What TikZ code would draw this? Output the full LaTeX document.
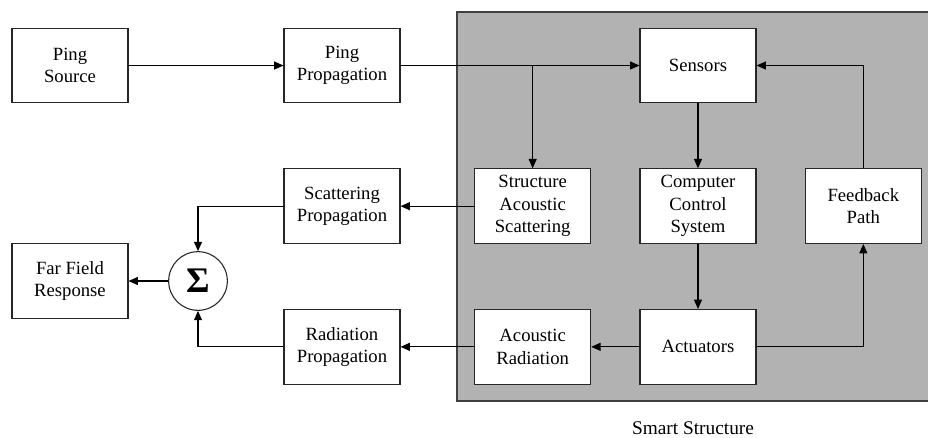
\documentclass[tikz,border=0pt]{standalone}
\usepackage{fontspec}
\setmainfont{Liberation Serif}
\usetikzlibrary{arrows.meta,positioning,shapes}
\definecolor{structgray}{RGB}{178,178,178}

\begin{document}
\begin{tikzpicture}[->,>={Triangle[length=7pt,width=6pt]},x=0.75pt,y=-0.75pt,line width=0.8pt]
\tikzstyle{block}=[draw=black!85,fill=white,rectangle,minimum width=87pt,minimum height=56pt,align=center,font=\fontsize{14}{16.8}\selectfont]
\tikzstyle{sumnode}=[draw=black!85,fill=white,circle,minimum size=44pt,inner sep=0pt,font=\fontsize{27}{27}\selectfont\bfseries]

\useasboundingbox (0,0) rectangle (928,437);
% smart structure background
\draw[-,fill=structgray,draw=black!75,line width=1.2pt] (457,12) rectangle (945,401);

\node[block]        (PS) at (70,65.5)  {Ping\\Source};
\node[block]        (PP) [right of=PS,node distance=204pt] {Ping\\Propagation};
\node[block]        (SE) [right of=PP,node distance=267pt] {Sensors};
\node[block]        (CCS) [below of=SE,node distance=105.5pt] {Computer\\Control\\System};
\node[block]        (SAS) [left of=CCS,node distance=124pt] {Structure\\Acoustic\\Scattering};
\node[block]        (FB) [right of=CCS,node distance=124pt] {Feedback\\Path};
\node[block]        (AC) [below of=CCS,node distance=105.5pt] {Actuators};
\node[block]        (AR) [left of=AC,node distance=124pt] {Acoustic\\Radiation};
\node[block]        (ScP) [left of=SAS,node distance=143pt] {Scattering\\Propagation};
\node[block]        (RaP) [left of=AR,node distance=143pt] {Radiation\\Propagation};
\node[sumnode]      (SUM) at (198,281) {Σ};
\node[block]        (FF) [left of=SUM,node distance=96pt] {Far Field\\Response};
\node[font=\fontsize{14.5}{16.5}\selectfont] (SS) at (693,428) {Smart Structure};

\coordinate (split) at (PP.east -| SAS.north);

\path
(PS) edge (PP)
(PP) edge (SE)
(split) edge (SAS)
(SE) edge (CCS)
(CCS) edge (AC)
(AC) edge (AR)
(SAS) edge (ScP)
(AR) edge (RaP)
(SUM) edge (FF)
;
\draw (AC.east) -| (FB.south);
\draw (FB.north) |- (SE.east);
\draw (ScP.west) -| (SUM.north);
\draw (RaP.west) -| (SUM.south);

\end{tikzpicture}
\end{document}
